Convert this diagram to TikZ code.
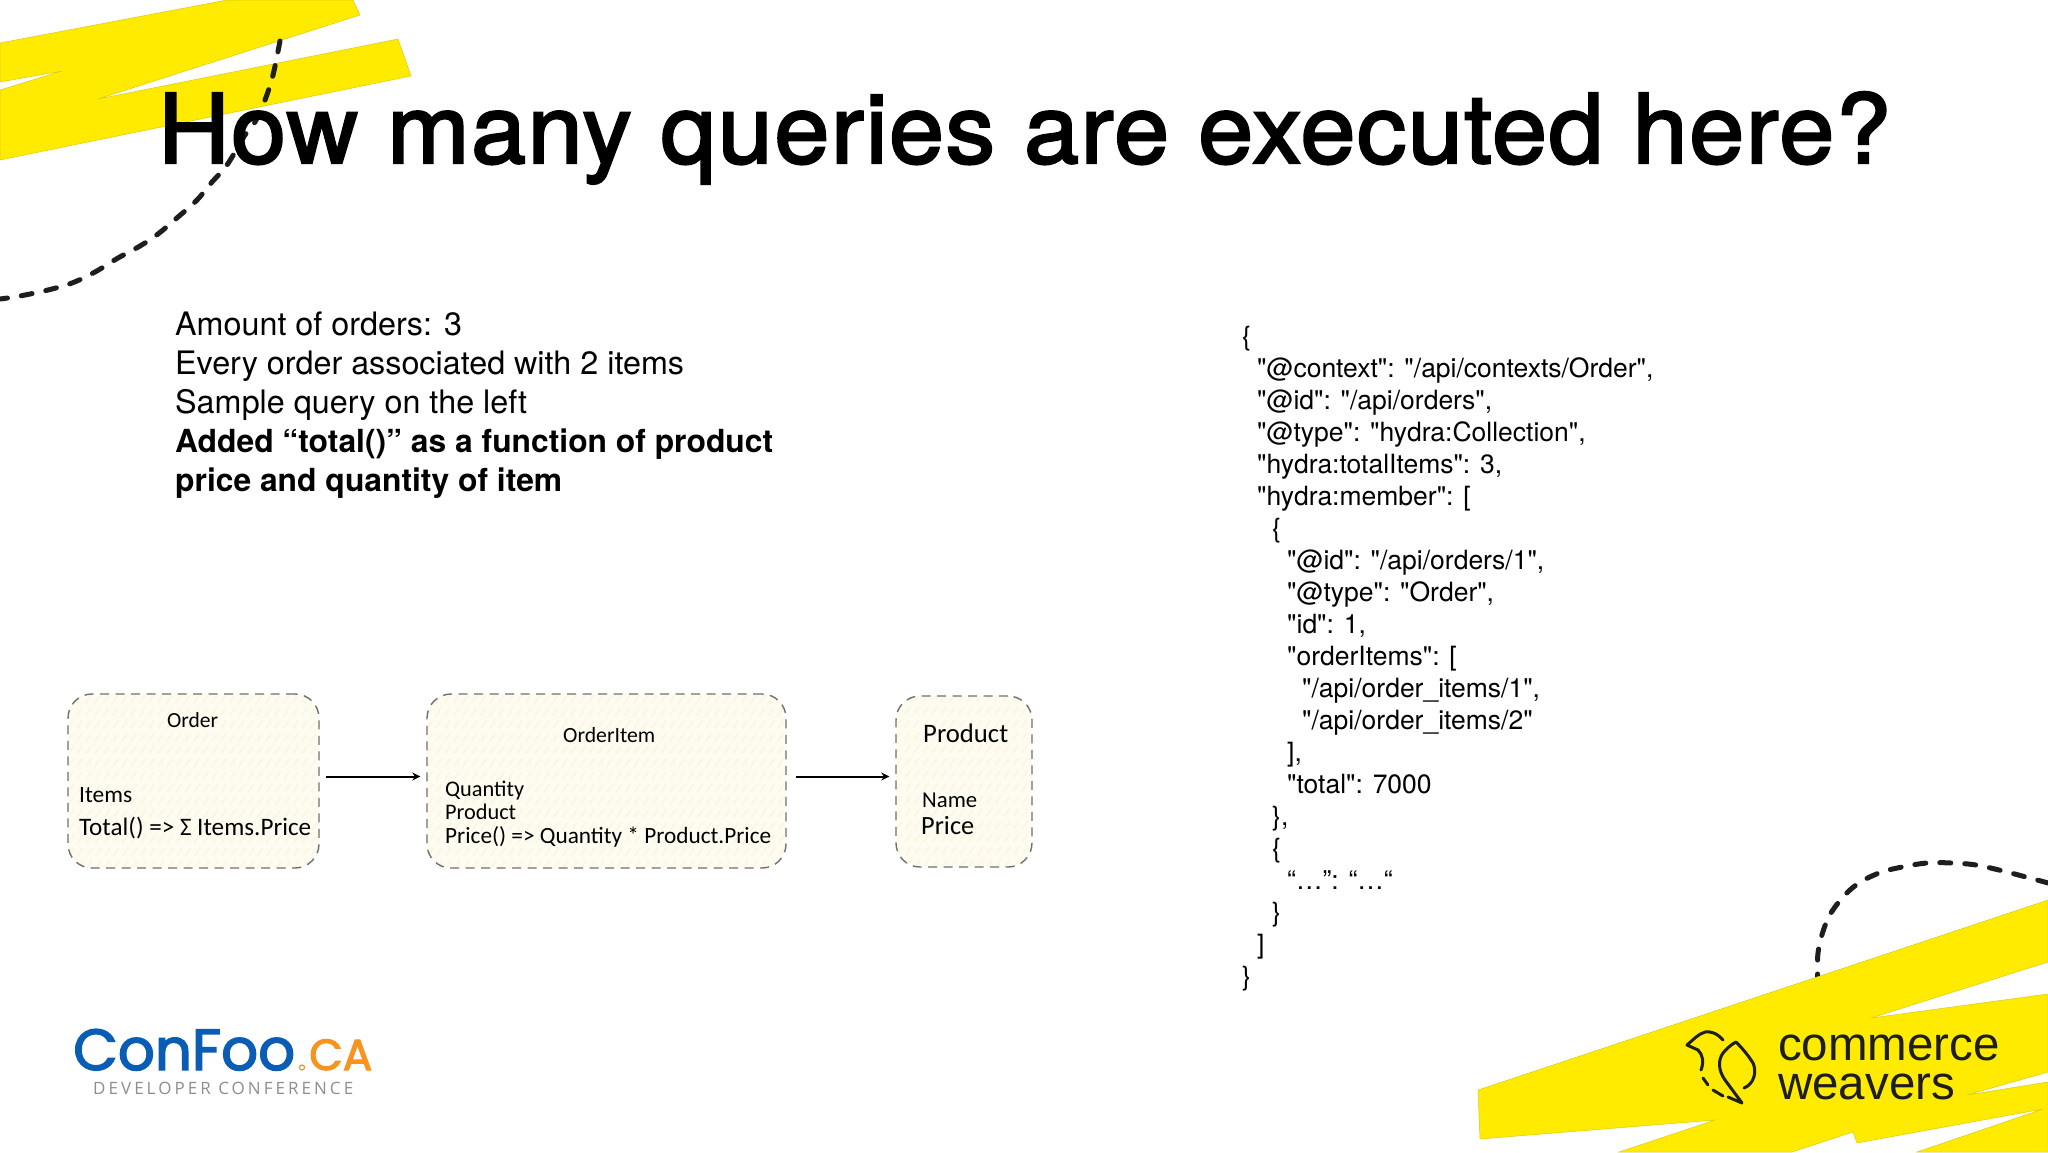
\documentclass[tikz,border=0pt]{standalone}
\usepackage{fontspec}
\usepackage{graphicx}
\setmainfont{TeX Gyre Heros}
\newfontfamily\jsonfont{TeX Gyre Heros}
\newfontfamily\handfont{Carlito}
\newfontfamily\titlefont[FakeBold=2.4,FakeStretch=1.03,LetterSpace=1.65]{TeX Gyre Heros}
\newfontfamily\logofont[FakeBold=2.5]{Poppins}
\newfontfamily\sublogofont[LetterSpace=18]{Open Sans}
\newfontfamily\cwfont{Liberation Sans}
\newcommand{\hand}[2]{\resizebox{#1pt}{!}{\handfont #2}}
\newcommand{\fitfont}[2]{\resizebox{#1pt}{!}{#2}}
\definecolor{cwyellow}{HTML}{FFEB00}
\definecolor{cwedge}{HTML}{DCCB10}
\definecolor{cwink}{HTML}{1E1E1E}
\definecolor{boxfill}{HTML}{FEFCF1}
\definecolor{boxhatch}{HTML}{FAF5DF}
\definecolor{boxline}{HTML}{707070}
\definecolor{cfblue}{HTML}{0A5DB5}
\definecolor{cforange}{HTML}{F7931E}
\definecolor{cfgray}{HTML}{8E8E8E}
\usetikzlibrary{arrows.meta}
\tikzset{
  brush/.style={fill=cwyellow,draw=cwedge,line width=0.5pt},
  swirl/.style={draw=cwink,line width=5pt,line cap=round,dash pattern=on 11pt off 14pt},
  card/.style={draw=boxline,fill=boxfill,line width=1.4pt,rounded corners=24pt,dash pattern=on 9pt off 6.5pt,inner sep=0pt,
    path picture={\foreach \i in {-260,-251,...,400}{\draw[boxhatch,line width=1.3pt]
      ([xshift=\i pt]path picture bounding box.south west) -- ++(140pt,200pt);}}},
  hand/.style={anchor=base west,inner sep=0pt,text=black},
  link/.style={draw=black,line width=2pt,-{Stealth[length=8pt,width=8pt]},shorten >=6pt,shorten <=6pt},
  bird/.style={draw=cwink,line width=3pt,line cap=round,line join=round},
}
\begin{document}
\begin{tikzpicture}[x=1pt,y=-1pt]
\useasboundingbox (0,0) rectangle (2048,1152);
\fill[white] (0,0) rectangle (2048,1152);
% top-left brush and swirl
\path[brush] (0,43) -- (227,0) -- (353,0) -- (360,15) -- (98,99) -- (398,39) -- (411,76) -- (0,160) -- (0,90) -- (62,71) -- (0,82) -- cycle;
\draw[swirl] plot[smooth,tension=0.6] coordinates {(280,41) (273,75) (265,100) (255,122) (245,135) (227,165) (212,182) (197,200) (178,217) (158,234) (140,246) (118,258) (95,272) (72,283) (48,290) (20,296) (0,299)};
% bottom-right swirl and brush
\draw[swirl] plot[smooth,tension=0.6] coordinates {(1818,985) (1818,953) (1826,923) (1838,903) (1856,885) (1879,873) (1902,867) (1927,863) (1952,863) (1976,865) (2003,871) (2026,877) (2052,884)};
\path[brush] (1478,1090) -- (2048,900) -- (2048,962) -- (1871,1018) -- (2048,994) -- (2048,1072) -- (1967,1095) -- (2048,1082) -- (2048,1152) -- (1917,1152) -- (2043,1109) -- (1857,1143) -- (1853,1132) -- (1792,1152) -- (1619,1152) -- (1715,1120) -- (1480,1139) -- cycle;
% title
\node[anchor=base west,inner sep=0pt] (title) at (158,163) {\titlefont\fontsize{96}{96}\selectfont How many queries are executed here?};
% left text
\node[anchor=north west,inner sep=0pt,align=left,font=\fontsize{32.3}{39}\selectfont] (intro) at (175,312) {Amount of orders: 3\\Every order associated with 2 items\\Sample query on the left\\{\fontsize{31.8}{39}\selectfont\bfseries Added “total()” as a function of product}\\{\fontsize{31.8}{39}\selectfont\bfseries price and quantity of item}};
% JSON
\node[anchor=north west,inner sep=0pt,align=left,font=\jsonfont\fontsize{26.5}{32}\selectfont] (json) at (1242,326) {\{\\
\hspace*{15pt}"@context": "/api/contexts/Order",\\
\hspace*{15pt}"@id": "/api/orders",\\
\hspace*{15pt}"@type": "hydra:Collection",\\
\hspace*{15pt}"hydra:totalItems": 3,\\
\hspace*{15pt}"hydra:member": [\\
\hspace*{30pt}\{\\
\hspace*{45pt}"@id": "/api/orders/1",\\
\hspace*{45pt}"@type": "Order",\\
\hspace*{45pt}"id": 1,\\
\hspace*{45pt}"orderItems": [\\
\hspace*{60pt}"/api/order\_items/1",\\
\hspace*{60pt}"/api/order\_items/2"\\
\hspace*{45pt}],\\
\hspace*{45pt}"total": 7000\\
\hspace*{30pt}\},\\
\hspace*{30pt}\{\\
\hspace*{45pt}“…”: “…“\\
\hspace*{30pt}\}\\
\hspace*{15pt}]\\
\}};
% cards
\node[card,minimum width=251pt,minimum height=174pt] (order) at (193.5,781) {};
\node[card,minimum width=359pt,minimum height=174pt] (item) at (606.5,781) {};
\node[card,minimum width=136pt,minimum height=171pt] (product) at (964,781.5) {};
\node[hand] (orderT) at (167,727) {\hand{51}{Order}};
\node[hand] (orderA) at (79,802) {\hand{53}{Items}};
\node[hand] (orderB) at (79,835) {\hand{232}{Total() => Σ Items.Price}};
\node[hand] (itemT) at (563,742) {\hand{92}{OrderItem}};
\node[hand] (itemA) at (445,796) {\hand{79}{Quantity}};
\node[hand] (itemB) at (445,819) {\hand{71}{Product}};
\node[hand] (itemC) at (445,843) {\hand{326}{Price() => Quantity * Product.Price}};
\node[hand] (prodT) at (923,742) {\hand{85}{Product}};
\node[hand] (prodA) at (922,807) {\hand{55}{Name}};
\node[hand] (prodB) at (921,834) {\hand{53}{Price}};
\draw[link] ([yshift=4.5pt]order.east) -- ([yshift=4.5pt]item.west);
\draw[link,shorten <=9pt] ([yshift=4.5pt]item.east) -- ([yshift=5pt]product.west);
% ConFoo logo
\node[anchor=base west,inner sep=0pt,text=cfblue] (confoo) at (73,1070) {\fitfont{222}{\logofont ConFoo}};
\node[anchor=base west,inner sep=0pt,text=cforange] (ca) at (309,1070) {\fitfont{63}{\logofont CA}};
\draw[cforange,line width=1.2pt] (302,1067.5) circle (2.5pt);
\node[anchor=base west,inner sep=0pt,text=cfgray] (dev) at (93,1094) {\fitfont{260}{\sublogofont\fontsize{16}{16}\selectfont DEVELOPER CONFERENCE}};
% Commerce Weavers logo
\draw[bird] (1723,1040) .. controls (1717,1033) and (1710,1031) .. (1705,1032) .. controls (1698,1034) and (1693,1040) .. (1687,1045) -- (1698,1050) .. controls (1703,1055) and (1704,1062) .. (1701,1070);
\draw[bird] (1703,1078) -- (1708,1085);
\draw[bird] (1713,1090) -- (1723,1096);
\draw[bird] (1728,1097) -- (1742,1103) -- (1725,1080) .. controls (1718,1070) and (1718,1060) .. (1723,1053) .. controls (1727,1048) and (1732,1044) .. (1736,1042) .. controls (1742,1048) and (1748,1055) .. (1753,1063) .. controls (1757,1072) and (1754,1084) .. (1744,1088);
\node[anchor=base west,inner sep=0pt,text=cwink,font=\cwfont\fontsize{47.5}{47.5}\selectfont] (cw1) at (1778,1060) {commerce};
\node[anchor=base west,inner sep=0pt,text=cwink,font=\cwfont\fontsize{47.5}{47.5}\selectfont] (cw2) at (1778,1099) {weavers};
\end{tikzpicture}
\end{document}
